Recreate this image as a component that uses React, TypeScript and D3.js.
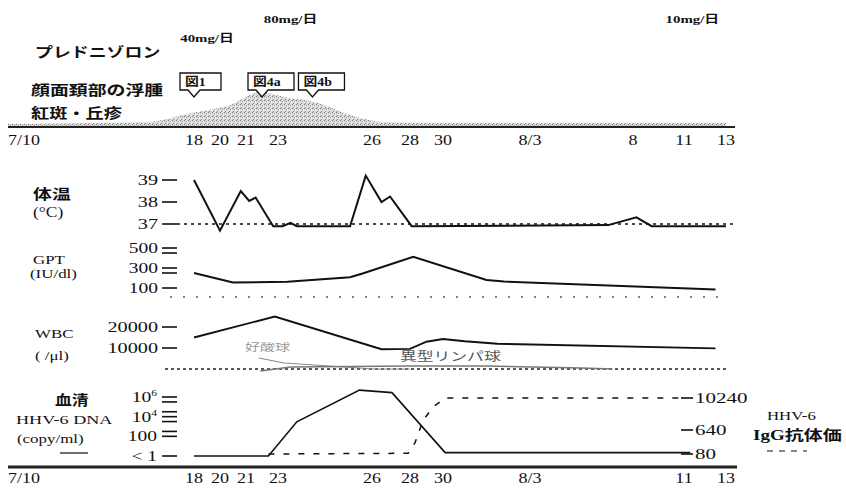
import * as d3 from 'd3'

// days counted from July 1 (Aug 3 = 34)
const dayTicks = [10, 18, 20, 21, 23, 26, 28, 30, 34, 39, 42, 44]
const topTickLabels = ['7/10', '18', '20', '21', '23', '26', '28', '30', '8/3', '8', '11', '13']
const bottomTickLabels = ['7/10', '18', '20', '21', '23', '26', '28', '30', '8/3', '', '11', '13']

const doseDays = [19, 23.4, 42.4]
const doseValues = [40, 80, 10]

const rashDays = [10, 16, 17.9, 20.4, 21.9, 23.2, 24.3, 25.3, 26.6, 30, 44]
const rashLevel = [3, 5, 14, 22, 35, 30, 24, 12, 5, 4, 4]

const figDays = [18, 22, 24.1]
const figLabels = ['図1', '図4a', '図4b']

const tempDays = [18, 20, 20.8, 21.2, 21.6, 22.7, 23.15, 23.4, 23.6, 25.3, 25.8, 26.5, 26.95, 28.1, 37.8, 39.2, 40.1, 44]
const tempValues = [39.0, 36.7, 38.5, 38.05, 38.2, 36.9, 36.9, 37.05, 36.9, 36.9, 39.2, 38.0, 38.25, 36.9, 36.95, 37.3, 36.9, 36.9]
const tempTicks = [39, 38, 37]

const gptDays = [18, 20.5, 23.3, 25.3, 25.7, 28.2, 32, 32.8, 43.5]
const gptValues = [250, 155, 163, 207, 245, 413, 180, 165, 85]
const gptTicks = [500, 450, 300, 250, 100]
const gptLabels = [500, 300, 100]
const gptRef = 10

const wbcDays = [18, 22.8, 26.5, 28, 29, 30, 31, 32.5, 43.5]
const wbcValues = [15000, 25000, 9400, 9600, 13000, 14300, 13200, 12000, 9800]
const wbcTicks = [20000, 10000]

const eosDays = [21.8, 23.2, 26.1, 28]
const eosValues = [11, 6, 0, 0]
const atypDays = [21.9, 23.4, 28, 32, 36.5, 38]
const atypValues = [-2, 2, 3, 3, 1, 0]

const dnaDays = [18, 22.4, 23.6, 25.6, 27.05, 30.1, 42.3]
const dnaValues = [1, 1, 3000, 5e6, 2.8e6, 2.2, 2.2]
const dnaTickExp = [6, 5.5, 4.5, 4, 3.5, 2.5, 2, 0]
const dnaLabels = [1e6, 1e4, 100, 1]

const iggDays = [22.4, 27.9, 28.3, 28.8, 29.4, 30.1, 41.7]
const iggValues = [80, 85, 210, 1500, 4700, 10240, 10240]
const iggTicks = [10240, 640, 80]

const FONT = "'Liberation Serif', 'Noto Sans CJK JP', serif"

type TProps = { x: number; y: number; s?: number; sx?: number; anchor?: string; fill?: string; w?: any; children: any }
const T = ({ x, y, s = 14, sx = 1.35, anchor = 'start', fill = '#111', w = 'normal', children }: TProps) => (
  <text transform={`translate(${x},${y}) scale(${sx},1)`} fontSize={s} textAnchor={anchor} fill={fill} fontWeight={w} fontFamily={FONT}>
    {children}
  </text>
)

const pairs = (days: number[], vals: number[]) => days.map((d, i) => [d, vals[i]] as [number, number])

const App = () => {
  const width = 846
  const height = 488

  const x = d3.scaleLinear().domain(dayTicks).range([8, 194, 220, 246, 278, 372, 410, 443, 530, 633, 684, 726])

  const rashY = d3.scaleLinear().domain([0, 35]).range([127, 92])
  const tempY = d3.scaleLinear().domain([37, 39]).range([224, 180])
  const gptY = d3.scaleLinear().domain([100, 500]).range([288, 248])
  const wbcY = d3.scaleLinear().domain([10000, 20000]).range([348, 327])
  const subY = d3.scaleLinear().domain([0, 15]).range([369, 354])
  const dnaY = d3.scaleLog().domain([1, 1e6]).range([456, 397])
  const iggY = d3.scaleLog().base(2).domain([80, 10240]).range([454, 398])

  const mkLine = (y: any) => d3.line<[number, number]>().x(d => x(d[0])).y(d => y(d[1]))

  const rashArea = d3.area<[number, number]>()
    .x(d => x(d[0]))
    .y0(rashY(0))
    .y1(d => rashY(d[1]))
    .curve(d3.curveMonotoneX)

  const sup = (v: number) => {
    if (v === 1) return <>{'< 1'}</>
    if (v >= 1e4) return <>{'10'}<tspan fontSize={9} dy={-6}>{Math.round(Math.log10(v))}</tspan></>
    return <>{v}</>
  }

  const leftTick = (y: number, key: any) => (
    <line key={key} x1={162} x2={177} y1={y} y2={y} stroke="#111" strokeWidth={1.6} />
  )

  return (
    <svg width={width} height={height} style={{ position: 'absolute', left: 0, top: 0, background: '#fff' }}>
      <defs>
        <pattern id="stipple" width={4} height={4} patternUnits="userSpaceOnUse">
          <rect width={4} height={4} fill="#dcdcdc" />
          <rect x={0} y={0} width={1} height={1} fill="#777" />
          <rect x={2} y={1} width={1} height={1} fill="#999" />
          <rect x={1} y={3} width={1} height={1} fill="#888" />
          <rect x={3} y={2} width={1} height={1} fill="#f4f4f4" />
        </pattern>
      </defs>

      {/* top: prednisolone and skin findings */}
      <T x={35} y={57} s={14} sx={1.28} w="bold">プレドニゾロン</T>
      {doseDays.map((d, i) => (
        <T key={i} x={x(d)} y={doseValues[i] === 40 ? 42 : 23} s={11} sx={1.35} anchor="middle" w="bold">
          {doseValues[i]}mg/日
        </T>
      ))}
      <T x={31} y={95} s={14} sx={1.35} w="bold">顔面頚部の浮腫</T>
      <T x={31} y={118} s={14} sx={1.3} w="bold">紅斑・丘疹</T>

      <path d={rashArea(pairs(rashDays, rashLevel)) || ''} fill="url(#stipple)" />

      {figDays.map((d, i) => {
        const tip = x(d)
        const L = tip - 14
        const W = 36 + 5 * (figLabels[i].length - 1)
        const top = 73
        const bot = 90
        const p = `M${L},${top} H${L + W} V${bot} H${tip + 6} L${tip},${bot + 7} L${tip - 6},${bot} H${L} Z`
        return (
          <g key={i}>
            <path d={p} fill="#fff" stroke="#111" strokeWidth={1.3} />
            <T x={L + 5} y={86} s={12} sx={1.15} w="bold">{figLabels[i]}</T>
          </g>
        )
      })}

      <line x1={8} x2={735} y1={127} y2={127} stroke="#222" strokeWidth={2.2} />
      {dayTicks.map((d, i) => (
        <T key={i} x={i === 0 ? 8 : x(d)} y={145} s={15} sx={1.2} anchor={i === 0 ? 'start' : 'middle'}>
          {topTickLabels[i]}
        </T>
      ))}

      {/* temperature */}
      <T x={33} y={199} s={14} sx={1.35} w="bold">体温</T>
      <T x={33} y={217} s={14} sx={1.25}>(°C)</T>
      {tempTicks.map(t => (
        <g key={t}>
          <T x={158} y={tempY(t) + 5} s={15} sx={1.35} anchor="end">{t}</T>
          {leftTick(tempY(t), 'l')}
        </g>
      ))}
      <line x1={177} x2={735} y1={tempY(37)} y2={tempY(37)} stroke="#111" strokeWidth={1.5} strokeDasharray="3,4" />
      <path d={mkLine(tempY)(pairs(tempDays, tempValues)) || ''} fill="none" stroke="#111" strokeWidth={2} />

      {/* GPT */}
      <T x={33} y={264} s={13} sx={1.3}>GPT</T>
      <T x={30} y={278} s={13} sx={1.3}>(IU/dl)</T>
      {gptTicks.map(t => leftTick(gptY(t), t))}
      {gptLabels.map(t => (
        <T key={t} x={158} y={gptY(t) + 5} s={15} sx={1.3} anchor="end">{t}</T>
      ))}
      <line x1={170} x2={718} y1={gptY(gptRef)} y2={gptY(gptRef)} stroke="#555" strokeWidth={1.5} strokeDasharray="2,11" />
      <path d={mkLine(gptY)(pairs(gptDays, gptValues)) || ''} fill="none" stroke="#111" strokeWidth={2} />

      {/* WBC */}
      <T x={35} y={338} s={13} sx={1.3}>WBC</T>
      <T x={35} y={360} s={13} sx={1.3}>( /μl)</T>
      {wbcTicks.map(t => (
        <g key={t}>
          <T x={158} y={wbcY(t) + 5} s={15} sx={1.35} anchor="end">{t}</T>
          {leftTick(wbcY(t), 'l')}
        </g>
      ))}
      <line x1={165} x2={728} y1={subY(0)} y2={subY(0)} stroke="#222" strokeWidth={1.5} strokeDasharray="3,3" />
      <path d={mkLine(subY)(pairs(eosDays, eosValues)) || ''} fill="none" stroke="#888" strokeWidth={1.2} />
      <path d={mkLine(subY)(pairs(atypDays, atypValues)) || ''} fill="none" stroke="#777" strokeWidth={1.6} />
      <T x={245} y={351} s={10} sx={1.5} fill="#999">好酸球</T>
      <T x={400} y={361} s={12} sx={1.4} fill="#555">異型リンパ球</T>
      <path d={mkLine(wbcY)(pairs(wbcDays, wbcValues)) || ''} fill="none" stroke="#111" strokeWidth={1.9} />

      {/* HHV-6 */}
      <T x={55} y={405} s={14} sx={1.2} w="bold">血清</T>
      <T x={16} y={424} s={12.5} sx={1.45}>HHV-6 DNA</T>
      <T x={17} y={443} s={13} sx={1.3}>(copy/ml)</T>
      <line x1={60} x2={88} y1={453} y2={453} stroke="#111" strokeWidth={1.2} />
      {dnaTickExp.map((e, i) => leftTick(dnaY(Math.pow(10, e)), i))}
      {dnaLabels.map(t => (
        <T key={t} x={157} y={dnaY(t) + 5} s={15} sx={1.3} anchor="end">{sup(t)}</T>
      ))}
      {iggTicks.map(t => (
        <g key={t}>
          <line x1={681} x2={693} y1={iggY(t)} y2={iggY(t)} stroke="#111" strokeWidth={1.6} />
          <T x={695} y={iggY(t) + 5} s={14} sx={1.5}>{t}</T>
        </g>
      ))}
      <path d={mkLine(dnaY)(pairs(dnaDays, dnaValues)) || ''} fill="none" stroke="#111" strokeWidth={1.6} />
      <path d={mkLine(iggY)(pairs(iggDays, iggValues)) || ''} fill="none" stroke="#111" strokeWidth={1.5} strokeDasharray="6,9" />
      <T x={767} y={420} s={12} sx={1.4}>HHV-6</T>
      <T x={753} y={440} s={14} sx={1.36} w="bold">IgG抗体価</T>
      <line x1={767} x2={807} y1={451} y2={451} stroke="#111" strokeWidth={1.2} strokeDasharray="6,6" />

      <line x1={8} x2={737} y1={467} y2={467} stroke="#222" strokeWidth={2.8} />
      {dayTicks.map((d, i) => (
        <T key={i} x={i === 0 ? 8 : x(d)} y={483} s={15} sx={1.2} anchor={i === 0 ? 'start' : 'middle'}>
          {bottomTickLabels[i]}
        </T>
      ))}
    </svg>
  )
}

export default App
